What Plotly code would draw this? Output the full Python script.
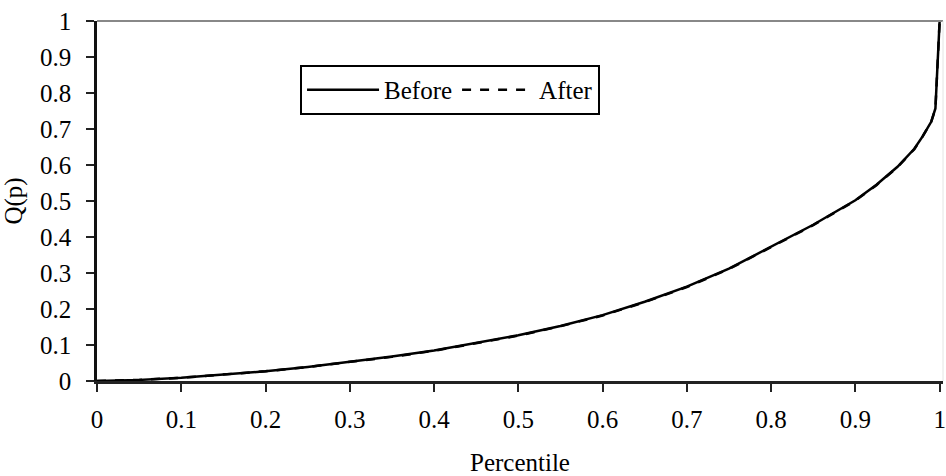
import plotly.graph_objects as go

percentile = [0, 0.05, 0.1, 0.15, 0.2, 0.25, 0.3, 0.35, 0.4, 0.45, 0.5, 0.55,
              0.6, 0.65, 0.7, 0.75, 0.8, 0.85, 0.9, 0.925, 0.95, 0.97, 0.98,
              0.99, 0.995, 1.0]
q_before = [0, 0.003, 0.009, 0.017, 0.027, 0.039, 0.053, 0.068, 0.085, 0.105,
            0.127, 0.153, 0.183, 0.22, 0.262, 0.312, 0.372, 0.434, 0.502, 0.545,
            0.595, 0.645, 0.68, 0.72, 0.757, 1.0]
q_after = [0, 0.003, 0.009, 0.017, 0.027, 0.039, 0.052, 0.067, 0.084, 0.104,
           0.126, 0.152, 0.182, 0.219, 0.261, 0.311, 0.371, 0.433, 0.501, 0.544,
           0.594, 0.644, 0.68, 0.72, 0.757, 1.0]

x_ticks = [0, 0.1, 0.2, 0.3, 0.4, 0.5, 0.6, 0.7, 0.8, 0.9, 1]
x_labels = ["0", "0.1", "0.2", "0.3", "0.4", "0.5", "0.6", "0.7", "0.8", "0.9", "1"]
y_ticks = [0, 0.1, 0.2, 0.3, 0.4, 0.5, 0.6, 0.7, 0.8, 0.9, 1]
y_labels = ["0", "0.1", "0.2", "0.3", "0.4", "0.5", "0.6", "0.7", "0.8", "0.9", "1"]

FONT = "Liberation Serif, Times New Roman, serif"

fig = go.Figure()
fig.add_trace(go.Scatter(x=percentile, y=q_before, mode="lines", name="Before",
                         line=dict(color="black", width=2.5)))
fig.add_trace(go.Scatter(x=percentile, y=q_after, mode="lines", name="After",
                         line=dict(color="black", width=2.5, dash="dash")))

fig.update_layout(
    width=946, height=476,
    margin=dict(l=97, r=3, t=21, b=95, autoexpand=False),
    paper_bgcolor="white", plot_bgcolor="white",
    font=dict(family=FONT, size=25, color="black"),
    showlegend=True,
    legend=dict(orientation="h", x=0.24, y=0.878, xanchor="left", yanchor="top",
                bordercolor="black", borderwidth=2, bgcolor="white",
                font=dict(family=FONT, size=25), itemwidth=72,
                tracegroupgap=0),
    xaxis=dict(range=[0, 1.004], tickvals=x_ticks, ticktext=x_labels,
               automargin=False,
               showgrid=False, zeroline=False, showline=True, linecolor="#222",
               linewidth=2.5, ticks="outside", ticklen=8, tickwidth=2,
               tickcolor="#222", ticklabelstandoff=6,
               title=dict(text="Percentile", standoff=27,
                          font=dict(family=FONT, size=25))),
    yaxis=dict(range=[0, 1], tickvals=y_ticks, ticktext=y_labels,
               automargin=False,
               showgrid=False, zeroline=False, showline=True, linecolor="#111",
               linewidth=2.5, ticks="outside", ticklen=8, tickwidth=2,
               tickcolor="#222", ticklabelstandoff=10,
               title=dict(text="Q(p)", standoff=16,
                          font=dict(family=FONT, size=25))),
    shapes=[
        dict(type="line", xref="paper", yref="paper", x0=0, x1=1, y0=1, y1=1,
             line=dict(color="#888888", width=2)),
        dict(type="line", xref="paper", yref="paper", x0=1, x1=1, y0=0, y1=1,
             line=dict(color="#e4e4e4", width=1)),
    ],
)

fig.write_html("out.html", config={"displayModeBar": False},
               post_script="document.body.style.margin='0';document.body.style.overflow='hidden';")
